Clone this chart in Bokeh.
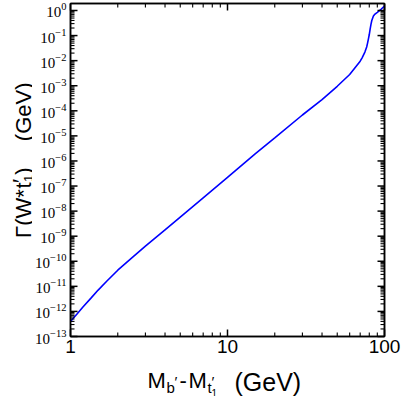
import math
from bokeh.plotting import figure
from bokeh.layouts import row, column
from bokeh.models import FixedTicker, LogAxis, PrintfTickFormatter, Range1d
from bokeh.core.properties import value
from bokeh.embed import file_html
from bokeh.resources import INLINE

# mass difference M_b' - M_t1' (GeV)
delta_m = [1.0, 1.1, 1.2, 1.35, 1.5, 1.7, 2.0, 2.5, 3.0, 4.0, 5.0, 7.0, 10.0, 15.0, 20.0,
           30.0, 40.0, 50.0, 60.0, 70.0, 72.0, 75.0, 77.0, 78.0, 79.0, 80.0, 81.0, 82.0,
           83.0, 85.0, 87.0, 90.0, 95.0, 100.0]
# width Gamma(W* t1') (GeV)
gamma = [4.0e-13, 7.9e-13, 1.5e-12, 3.4e-12, 7.1e-12, 1.6e-11, 4.4e-11, 1.5e-10, 4.0e-10,
         1.8e-9, 5.8e-9, 3.4e-8, 2.2e-7, 1.9e-6, 8.3e-6, 6.8e-5, 2.8e-4, 9.5e-4, 2.8e-3,
         9.5e-3, 1.3e-2, 2.2e-2, 3.5e-2, 5.0e-2, 7.4e-2, 0.11, 0.18, 0.28, 0.40, 0.60,
         0.72, 0.85, 1.12, 1.5]

x_major = [1, 10, 100]
x_minor = [2, 3, 4, 5, 6, 7, 8, 9, 20, 30, 40, 50, 60, 70, 80, 90]
y_major_exp = list(range(-13, 1))
y_minor_mult = [2, 3, 4, 5, 6, 7, 8, 9]

y_major = [10.0 ** e for e in y_major_exp]
y_minor = [m * 10.0 ** e for e in y_major_exp[:-1] for m in y_minor_mult]

X_LO, X_HI = 1, 100
Y_LO, Y_HI = 1e-13, 1.9
FW, FH = 314, 333

FONT = "Liberation Sans"

# ---------------- main plot ----------------
p = figure(frame_width=FW, frame_height=FH,
           x_axis_type="log", y_axis_type="log",
           x_range=Range1d(X_LO, X_HI), y_range=Range1d(Y_LO, Y_HI),
           output_backend="svg", toolbar_location=None,
           min_border_left=37, min_border_right=17, min_border_top=3, min_border_bottom=22)
p.background_fill_color = "white"
p.border_fill_color = "white"
p.xgrid.visible = False
p.ygrid.visible = False
p.outline_line_color = "black"
p.outline_line_width = 1.5

xt = FixedTicker(ticks=x_major, minor_ticks=x_minor)
yt = FixedTicker(ticks=y_major, minor_ticks=y_minor)


def style(ax):
    ax.axis_line_color = "black"
    ax.axis_line_width = 1.5
    ax.major_tick_in = 0
    ax.major_tick_out = 0
    ax.minor_tick_in = 0
    ax.minor_tick_out = 0


xa = p.xaxis[0]
xa.ticker = xt
xa.formatter = PrintfTickFormatter(format="%d")
xa.major_label_text_font = FONT
xa.major_label_text_font_size = "19px"
xa.major_label_text_color = "black"
xa.major_label_standoff = 3
style(xa)

ya = p.yaxis[0]
ya.ticker = yt
ya.major_label_text_font = "Liberation Serif"
ya.major_label_text_font_size = "15px"
ya.major_label_text_color = "black"
ya.major_label_standoff = 4
style(ya)

top = LogAxis(ticker=xt, major_label_text_font_size="1px", major_label_text_alpha=0,
              major_label_standoff=0)
style(top)
p.add_layout(top, "above")
right = LogAxis(ticker=yt, major_label_text_font_size="1px", major_label_text_alpha=0,
                major_label_standoff=0)
style(right)
p.add_layout(right, "right")

# inward tick marks on all four sides: dash markers whose centre sits half a tick
# length inside the frame edge, so each dash runs from the edge inward
ppd_x = FW / math.log10(X_HI / X_LO)   # pixels per decade
ppd_y = FH / math.log10(Y_HI / Y_LO)
V = math.pi / 2
for ticks, ln, w in ((x_major, 7, 1.5), (x_minor, 4, 1.1)):
    n = len(ticks)
    f = 10 ** ((ln / 2.0) / ppd_y)
    p.scatter(x=ticks, y=[Y_LO * f] * n, marker="dash", size=ln, angle=V,
              line_color="black", line_width=w, level="overlay")
    p.scatter(x=ticks, y=[Y_HI / f] * n, marker="dash", size=ln, angle=V,
              line_color="black", line_width=w, level="overlay")
for ticks, ln, w in ((y_major, 7, 1.5), (y_minor, 4, 1.1)):
    n = len(ticks)
    f = 10 ** ((ln / 2.0) / ppd_x)
    p.scatter(x=[X_LO * f] * n, y=ticks, marker="dash", size=ln,
              line_color="black", line_width=w, level="overlay")
    p.scatter(x=[X_HI / f] * n, y=ticks, marker="dash", size=ln,
              line_color="black", line_width=w, level="overlay")

p.line(delta_m, gamma, line_color="#0000ff", line_width=1.6)


# ---------------- label panels ----------------
def panel(w, h):
    fg = figure(width=w, height=h, x_range=Range1d(0, w), y_range=Range1d(h, 0),
                x_axis_type=None, y_axis_type=None, output_backend="svg",
                toolbar_location=None, min_border=0, min_border_left=0,
                min_border_right=0, min_border_top=0, min_border_bottom=0)
    fg.outline_line_color = None
    fg.xgrid.visible = False
    fg.ygrid.visible = False
    fg.background_fill_color = "white"
    fg.border_fill_color = "white"
    return fg


def txt(fg, x, y, t, size, angle=0.0):
    fg.text(x=[x], y=[y], text=[t], text_font=value(FONT), text_font_size=value(size),
            text_color="black", text_align="left", text_baseline="alphabetic", angle=angle)


# y-axis label panel (page x 0..32, y 0..358)
yl = panel(32, 358)
A = math.pi / 2
txt(yl, 23, 252, "\u0393(W*", "22px", A)
txt(yl, 23, 199, "t", "22px", A)
txt(yl, 20, 193, "\u2032", "22px", A)
txt(yl, 28, 192, "1", "13px", A)
txt(yl, 23, 184, ")", "22px", A)
txt(yl, 23, 148, "(GeV)", "22px", A)

# x-axis label panel (page y 358..396)
XO = 358
xl = panel(400, 38)
txt(xl, 147, 380 - XO, "M", "22px")
txt(xl, 166, 387 - XO, "b", "15px")
txt(xl, 174, 381 - XO, "\u2032", "15px")
txt(xl, 179, 380 - XO, "-", "22px")
txt(xl, 188, 380 - XO, "M", "22px")
txt(xl, 207, 387 - XO, "t", "15px")
txt(xl, 211, 381 - XO, "\u2032", "15px")
txt(xl, 211, 392 - XO, "1", "10px")
txt(xl, 234, 381 - XO, "(GeV)", "25px")

layout = column(row(yl, p), xl)
open("out.html", "w").write(file_html(layout, INLINE))
